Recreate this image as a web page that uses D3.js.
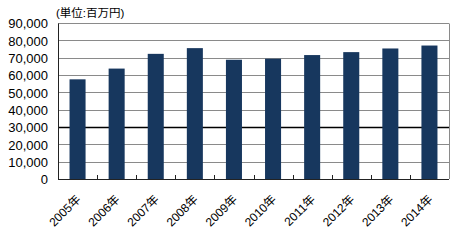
<!DOCTYPE html>
<html>
<head>
<meta charset="utf-8">
<script src="https://cdn.jsdelivr.net/npm/d3@7"></script>
<style>
  html, body { margin: 0; padding: 0; background: #fff; overflow: hidden; }
  svg { display: block; }
  text { font-family: "Liberation Sans", Arial, "Noto Sans CJK JP", sans-serif; fill: #000; }
</style>
</head>
<body>
<div id="chart"></div>
<script>
// data
const years = ["2005年", "2006年", "2007年", "2008年", "2009年", "2010年", "2011年", "2012年", "2013年", "2014年"];
const values = [57500, 63700, 72200, 75500, 68800, 69400, 71500, 73200, 75300, 77000];
const yTicks = [0, 10000, 20000, 30000, 40000, 50000, 60000, 70000, 80000, 90000];
const unitLabel = "(単位:百万円)";

let width = 460;
let height = 240;
let margin = { top: 23, left: 58, right: 11, bottom: 61 };
let innerWidth = width - margin.left - margin.right;
let innerHeight = height - margin.top - margin.bottom;

let svg = d3.select("#chart").append("svg")
  .attr("width", width)
  .attr("height", height);

let g = svg.append("g")
  .attr("transform", `translate(${margin.left},${margin.top})`);

let x = d3.scaleBand().domain(years).range([0, innerWidth]).paddingInner(0.59).paddingOuter(0.295);
let y = d3.scaleLinear().domain([0, 90000]).range([innerHeight, 0]);

// grid lines (30,000 drawn darker like the original)
g.selectAll(".grid")
  .data(yTicks.filter(d => d > 0))
  .enter().append("line")
  .attr("x1", 0).attr("x2", innerWidth)
  .attr("y1", d => Math.round(y(d)) + 0.5).attr("y2", d => Math.round(y(d)) + 0.5)
  .attr("stroke", d => d === 30000 ? "#000" : "#8a8a8a")
  .attr("stroke-width", d => d === 30000 ? 1.3 : 1);

// plot border (right side)
g.append("line")
  .attr("x1", innerWidth + 0.5).attr("x2", innerWidth + 0.5)
  .attr("y1", Math.round(y(90000)) + 0.5).attr("y2", innerHeight)
  .attr("stroke", "#8a8a8a");

// bars
g.selectAll(".bar")
  .data(values)
  .enter().append("rect")
  .attr("x", (d, i) => x(years[i]))
  .attr("y", d => y(d))
  .attr("width", x.bandwidth())
  .attr("height", d => innerHeight - y(d))
  .attr("fill", "#17375e");

// y axis
let yAxis = d3.axisLeft(y).tickValues(yTicks).tickSize(0).tickPadding(10)
  .tickFormat(d3.format(","));
let yG = g.append("g").call(yAxis);
yG.select(".domain").attr("stroke", "#222");
yG.selectAll("text").attr("font-size", "13px").attr("dy", "0.36em");

// x axis line and ticks at category boundaries
g.append("line")
  .attr("x1", 0).attr("x2", innerWidth)
  .attr("y1", innerHeight + 0.5).attr("y2", innerHeight + 0.5)
  .attr("stroke", "#222");
g.selectAll(".xtick")
  .data(d3.range(1, years.length))
  .enter().append("line")
  .attr("x1", i => Math.round(i * x.step()) + 0.5)
  .attr("x2", i => Math.round(i * x.step()) + 0.5)
  .attr("y1", innerHeight - 4).attr("y2", innerHeight)
  .attr("stroke", "#222");

// x labels rotated
g.selectAll(".xlabel")
  .data(years)
  .enter().append("text")
  .attr("transform", d => `translate(${x(d) + x.bandwidth() / 2 - 2},${innerHeight + 15}) rotate(-45)`)
  .attr("text-anchor", "end")
  .attr("dy", "0.7em")
  .attr("font-size", "12px")
  .text(d => d);

// unit label
svg.append("text")
  .attr("x", 56).attr("y", 17)
  .attr("font-size", "11.5px")
  .text(unitLabel);
</script>
</body>
</html>
